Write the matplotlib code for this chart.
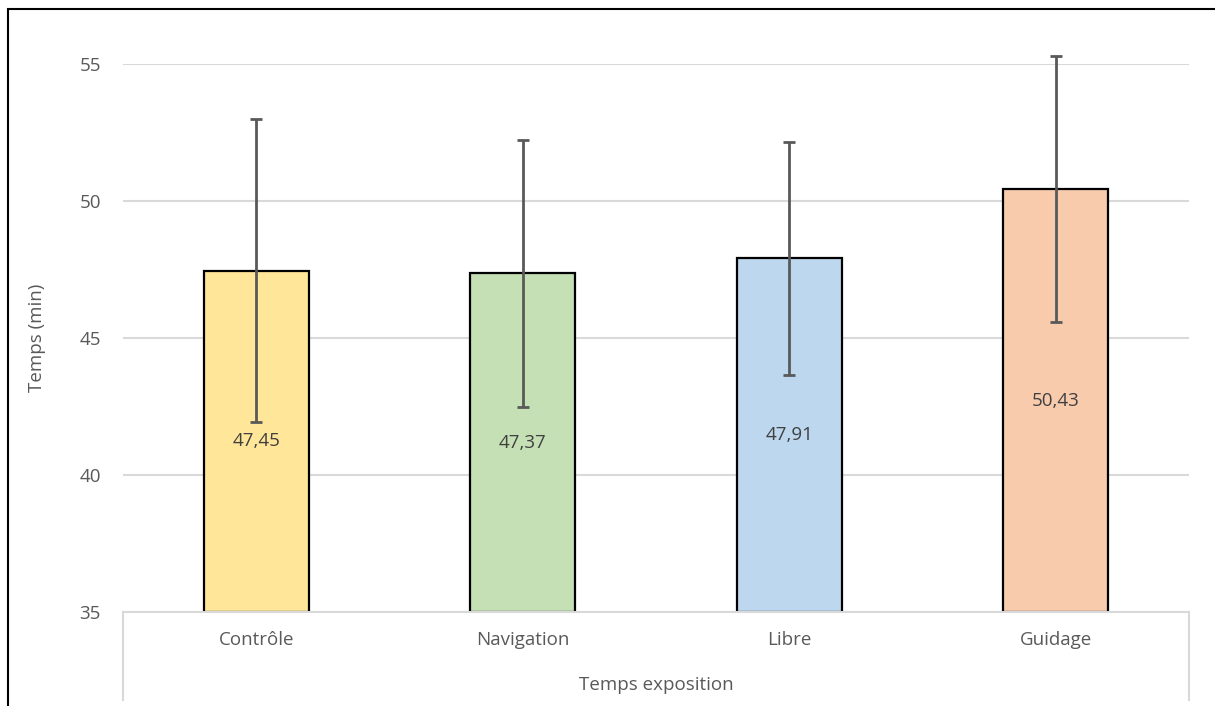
import matplotlib
matplotlib.use('Agg')
import matplotlib.pyplot as plt
from matplotlib.patches import Rectangle
from matplotlib.transforms import blended_transform_factory

# Données
categories = ['Contrôle', 'Navigation', 'Libre', 'Guidage']
temps_moyen = [47.45, 47.37, 47.91, 50.43]
ecart = [5.53, 4.87, 4.25, 4.85]
couleurs = ['#FFE699', '#C5E0B4', '#BDD7EE', '#F8CBAD']
y_ticks = [35, 40, 45, 50, 55]

plt.rcParams['font.family'] = ['Open Sans', 'DejaVu Sans']
gris = '#595959'
taille = 13.5

fig = plt.figure(figsize=(12.15, 7.06), dpi=100)
ax = fig.add_axes([123 / 1215, 94 / 706, 1066 / 1215, 548 / 706])

x = range(len(categories))
ax.bar(x, [v - 35 for v in temps_moyen], bottom=35, width=0.395,
       color=couleurs, edgecolor='black', linewidth=1.6, zorder=2)
ax.errorbar(x, temps_moyen, yerr=ecart, fmt='none', ecolor=gris,
            elinewidth=2, capsize=4.5, capthick=2, zorder=3, clip_on=False)

# Étiquettes au centre des barres
for i, v in enumerate(temps_moyen):
    ax.text(i, 35 + (v - 35) / 2, f'{v:.2f}'.replace('.', ','),
            ha='center', va='center', fontsize=taille, color='#404040', zorder=4)

ax.set_xlim(-0.5, 3.5)
ax.set_ylim(35, 55)
ax.set_yticks(y_ticks)
ax.set_yticklabels([str(t) for t in y_ticks])
ax.grid(axis='y', color='#D9D9D9', linewidth=1.5, zorder=0)
ax.set_axisbelow(True)

for s in ['top', 'right', 'left']:
    ax.spines[s].set_visible(False)
ax.spines['bottom'].set_color('#D9D9D9')
ax.spines['bottom'].set_linewidth(1.5)

ax.set_xticks(list(x))
ax.set_xticklabels(categories)
ax.tick_params(axis='x', length=0, pad=14, labelsize=taille, labelcolor=gris)
ax.tick_params(axis='y', length=0, pad=16, labelsize=taille, labelcolor=gris)

# Boîte de l'axe des catégories (style Excel)
tr = blended_transform_factory(ax.transAxes, ax.transAxes)
for xx in [0, 1]:
    ax.plot([xx, xx], [0, -0.161], transform=tr, color='#D9D9D9',
            linewidth=1.5, clip_on=False)

ax.set_ylabel('Temps (min)', fontsize=taille, color=gris, labelpad=24)
ax.set_xlabel('Temps exposition', fontsize=taille, color=gris, labelpad=19)

# Cadre noir
fig.add_artist(Rectangle((8 / 1215, -0.01), 1.0, 697 / 706 + 0.01,
                         transform=fig.transFigure, fill=False,
                         edgecolor='black', linewidth=1.5))

fig.savefig('out.png', dpi=100)
